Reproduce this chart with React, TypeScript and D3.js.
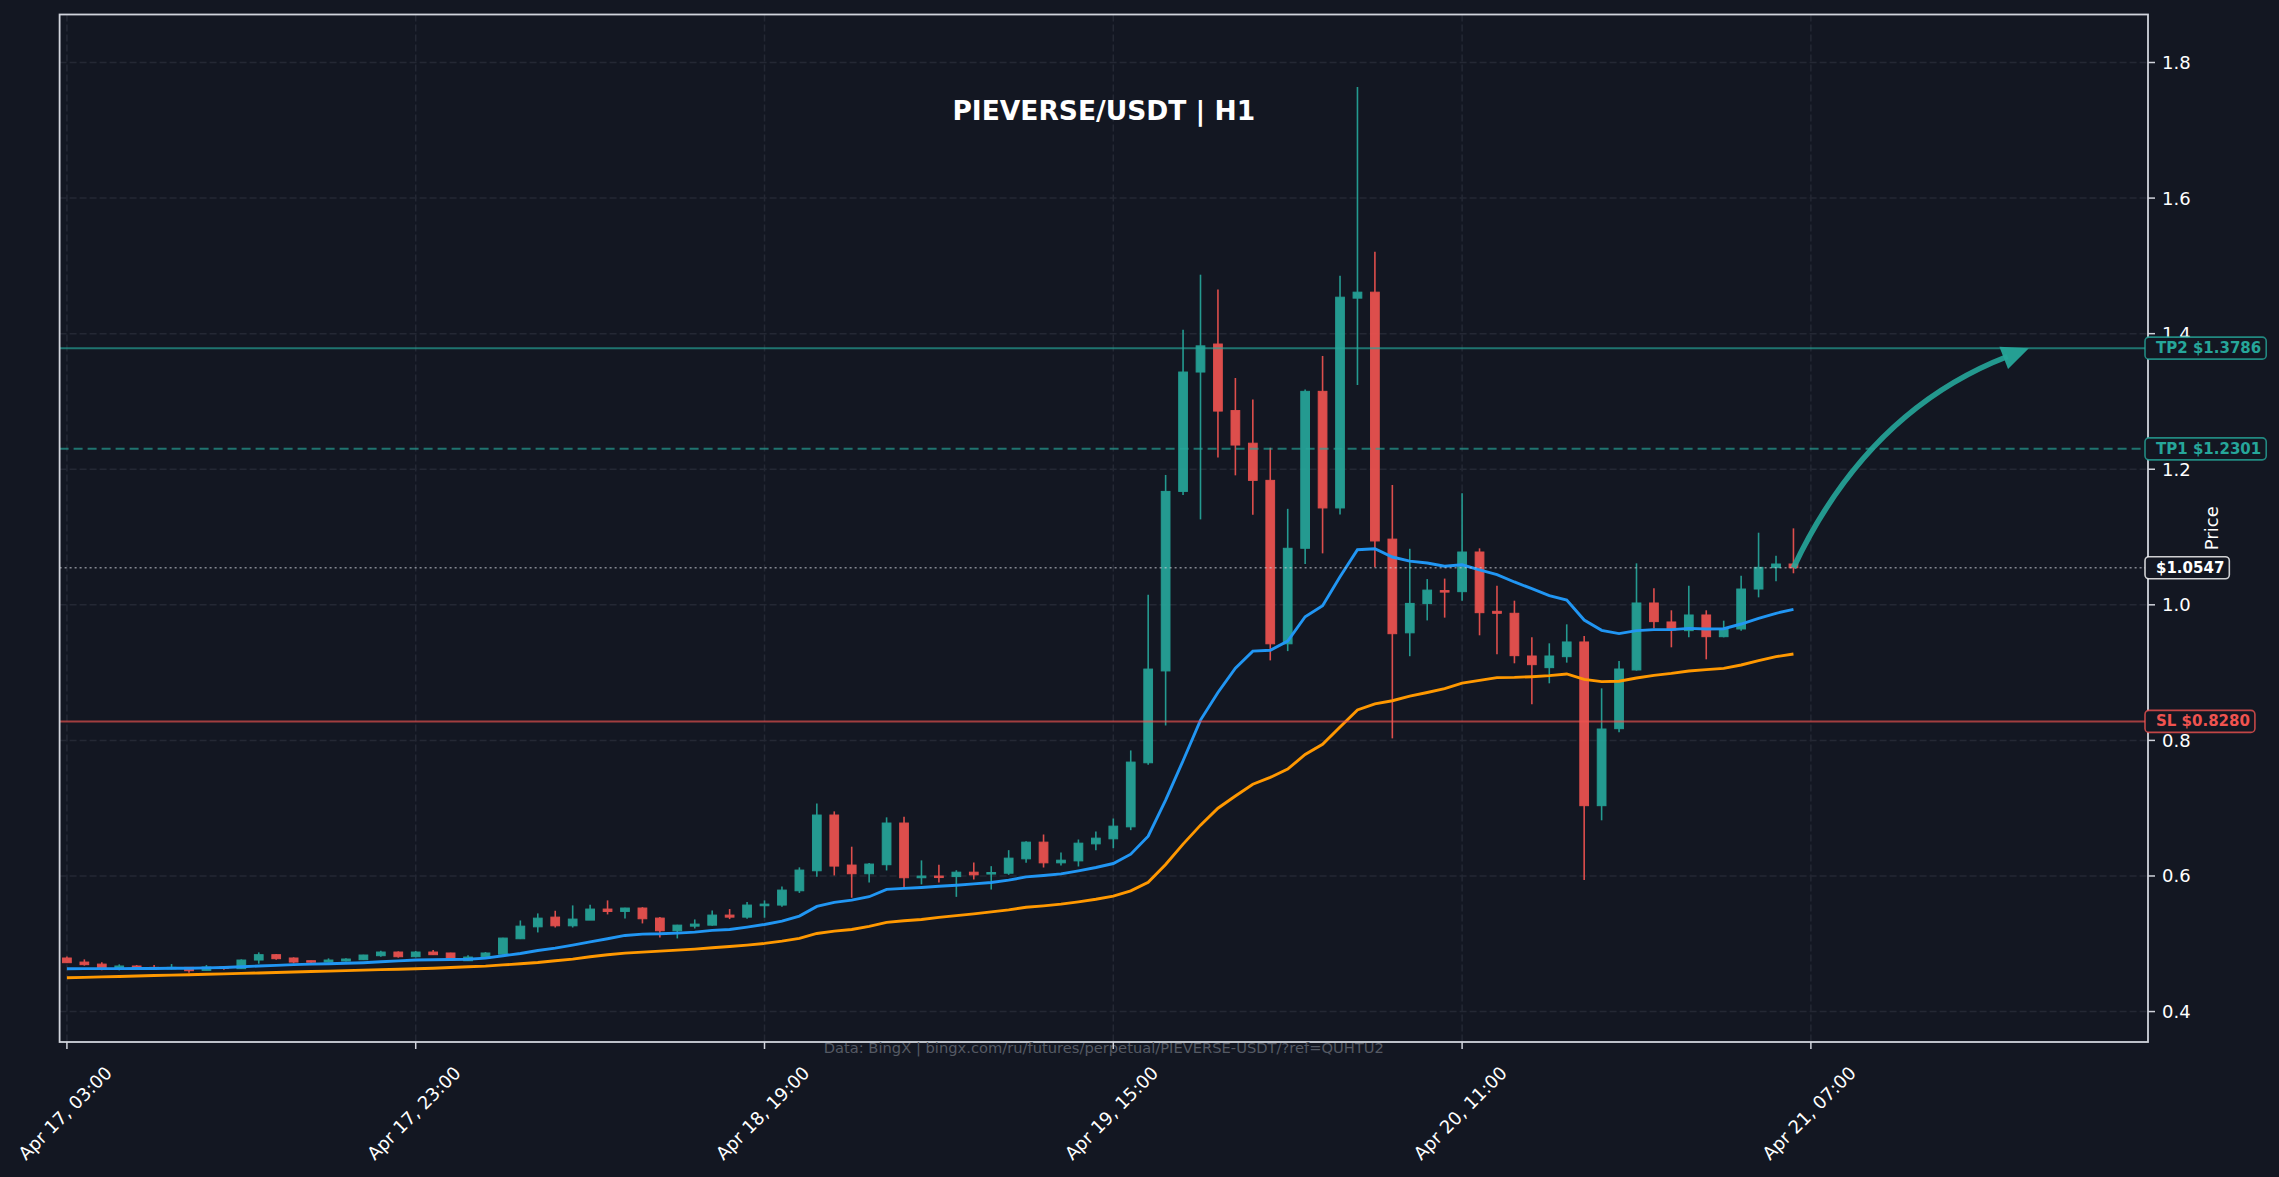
import { useEffect, useRef } from "react";
import * as d3 from "d3";

const WIDTH = 2279;
const HEIGHT = 1177;

// hourly candles, Apr 17 03:00 -> Apr 21 06:00
const opens = [
  0.479, 0.473, 0.47, 0.4622, 0.4672, 0.4652, 0.4647, 0.4652, 0.4608, 0.4657,
  0.4633, 0.476, 0.4839, 0.479, 0.475, 0.4731, 0.4746, 0.4765, 0.4824, 0.4878,
  0.4809, 0.4878, 0.4864, 0.475, 0.4785, 0.4847, 0.5074, 0.525, 0.5393, 0.5265,
  0.5349, 0.5512, 0.5477, 0.5527, 0.5379, 0.5192, 0.526, 0.5275, 0.5423, 0.5393,
  0.5561, 0.5571, 0.5782, 0.6077, 0.6899, 0.6161, 0.6033, 0.6166, 0.6781, 0.5974,
  0.5999, 0.5991, 0.6056, 0.603, 0.6041, 0.6253, 0.6499, 0.6194, 0.6223, 0.6474,
  0.6548, 0.6725, 0.767, 0.9025, 1.1673, 1.3434, 1.3847, 1.2865, 1.2384, 1.1836,
  0.9425, 1.0834, 1.3149, 1.1429, 1.4524, 1.4612, 1.0969, 0.9587, 1.0018, 1.021,
  1.0194, 1.0779, 0.9904, 0.9875, 0.9245, 0.9073, 0.9235, 0.9452, 0.7037, 0.8173,
  0.9039, 1.0027, 0.9747, 0.9619, 0.985, 0.953, 0.9644, 1.0233, 1.0548, 1.0602,
];
const highs = [
  0.4814, 0.477, 0.4726, 0.4696, 0.4686, 0.4686, 0.4701, 0.4657, 0.4686, 0.4662,
  0.477, 0.4873, 0.4849, 0.48, 0.4755, 0.4785, 0.4785, 0.4838, 0.4898, 0.4888,
  0.4893, 0.4908, 0.4868, 0.4829, 0.4878, 0.509, 0.5344, 0.5448, 0.5487, 0.5566,
  0.5576, 0.564, 0.553, 0.554, 0.5394, 0.528, 0.5359, 0.5492, 0.5512, 0.5615,
  0.564, 0.5846, 0.6127, 0.7071, 0.6953, 0.6432, 0.6191, 0.6865, 0.6874, 0.623,
  0.6166, 0.6085, 0.6199, 0.6145, 0.6381, 0.6514, 0.6612, 0.6346, 0.6538, 0.6656,
  0.6848, 0.7852, 1.015, 1.1916, 1.4057, 1.487, 1.4653, 1.3346, 1.3028, 1.2317,
  1.1416, 1.3176, 1.3671, 1.4856, 1.7639, 1.5208, 1.1768, 1.0827, 1.038, 1.0387,
  1.1645, 1.0833, 1.0283, 1.0061, 0.9521, 0.9432, 0.9712, 0.954, 0.8768, 0.9171,
  1.0612, 1.0243, 0.9919, 1.0283, 0.9919, 0.9766, 1.043, 1.1064, 1.0725, 1.1128,
];
const lows = [
  0.4716, 0.4677, 0.4608, 0.4608, 0.4622, 0.4622, 0.4622, 0.4574, 0.4608, 0.4618,
  0.4628, 0.4706, 0.4765, 0.4711, 0.4706, 0.4726, 0.474, 0.476, 0.4809, 0.4795,
  0.48, 0.4834, 0.476, 0.4745, 0.478, 0.484, 0.5069, 0.5167, 0.524, 0.524,
  0.5349, 0.5433, 0.5374, 0.53, 0.5093, 0.5079, 0.5226, 0.5265, 0.5364, 0.537,
  0.5384, 0.5546, 0.575, 0.5989, 0.6008, 0.5679, 0.5905, 0.6081, 0.5831, 0.5876,
  0.5905, 0.5692, 0.5948, 0.58, 0.6017, 0.6194, 0.6125, 0.6155, 0.614, 0.6381,
  0.641, 0.6676, 0.764, 0.822, 1.162, 1.126, 1.2174, 1.191, 1.1328, 0.918,
  0.9317, 1.0603, 1.0759, 1.1334, 1.3244, 1.0556, 0.803, 0.9242, 0.977, 0.9811,
  1.0061, 0.955, 0.927, 0.9137, 0.8532, 0.8842, 0.9147, 0.5941, 0.6821, 0.8119,
  0.9029, 0.9653, 0.9373, 0.952, 0.9196, 0.952, 0.9619, 1.011, 1.0347, 1.0465,
];
const closes = [
  0.4721, 0.4692, 0.4622, 0.4672, 0.4652, 0.4647, 0.4652, 0.4603, 0.4657, 0.4643,
  0.476, 0.4839, 0.478, 0.473, 0.4731, 0.476, 0.4775, 0.4834, 0.4878, 0.4809,
  0.4878, 0.4839, 0.476, 0.4804, 0.4864, 0.5084, 0.526, 0.5378, 0.5265, 0.5364,
  0.5512, 0.5477, 0.5527, 0.5369, 0.5192, 0.5275, 0.529, 0.5423, 0.5393, 0.5571,
  0.5585, 0.5792, 0.6087, 0.6899, 0.6146, 0.6033, 0.6176, 0.6781, 0.5974, 0.5999,
  0.5979, 0.6056, 0.6017, 0.6051, 0.6263, 0.6499, 0.6194, 0.6233, 0.6484, 0.6558,
  0.6735, 0.768, 0.9052, 1.1673, 1.3434, 1.382, 1.2858, 1.2357, 1.1836, 0.9425,
  1.0834, 1.3149, 1.1429, 1.4538, 1.4612, 1.0942, 0.9574, 1.0021, 1.0217, 1.019,
  1.0779, 0.9884, 0.9875, 0.925, 0.9117, 0.9245, 0.9452, 0.7037, 0.8168, 0.9053,
  1.0027, 0.9752, 0.9629, 0.985, 0.953, 0.9644, 1.0233, 1.0553, 1.0602, 1.0547,
];

// moving averages
const emaFast = [
  0.4632, 0.4633, 0.4633, 0.4634, 0.4635, 0.4636, 0.4638, 0.464, 0.4645, 0.465,
  0.466, 0.4672, 0.4682, 0.4692, 0.47, 0.4706, 0.4712, 0.4721, 0.4735, 0.4748,
  0.476, 0.4764, 0.4767, 0.4772, 0.4788, 0.4823, 0.4857, 0.4901, 0.4936, 0.498,
  0.5029, 0.5074, 0.5123, 0.5143, 0.5147, 0.5157, 0.5172, 0.5197, 0.5211, 0.5246,
  0.5285, 0.5334, 0.5408, 0.5551, 0.561, 0.5644, 0.5694, 0.5802, 0.5817, 0.5831,
  0.5849, 0.5864, 0.5884, 0.5903, 0.5938, 0.5987, 0.6007, 0.6031, 0.6076, 0.6125,
  0.6184, 0.6322, 0.6587, 0.712, 0.77, 0.83, 0.8707, 0.9066, 0.9317, 0.933,
  0.9466, 0.9824, 0.9987, 1.0414, 1.0813, 1.0827, 1.0705, 1.0644, 1.0617, 1.057,
  1.059, 1.0514, 1.0445, 1.0337, 1.0238, 1.0135, 1.0071, 0.9776, 0.9624, 0.9575,
  0.9619, 0.9634, 0.9634, 0.9653, 0.9643, 0.9648, 0.9717, 0.9801, 0.9875, 0.9934,
];
const emaSlow = [
  0.4499, 0.4505, 0.4511, 0.4518, 0.4524, 0.4531, 0.4537, 0.4544, 0.455, 0.4556,
  0.4563, 0.4569, 0.4576, 0.4583, 0.459, 0.4597, 0.4604, 0.4611, 0.4618, 0.4625,
  0.4632, 0.464, 0.465, 0.466, 0.467, 0.4688, 0.4705, 0.4724, 0.4749, 0.4774,
  0.4808, 0.4838, 0.4862, 0.4877, 0.4892, 0.4906, 0.4921, 0.4941, 0.496, 0.498,
  0.5005, 0.5039, 0.5079, 0.5152, 0.5187, 0.5211, 0.5256, 0.5315, 0.5339, 0.5359,
  0.539, 0.5416, 0.5441, 0.547, 0.55, 0.5539, 0.5559, 0.5584, 0.5618, 0.5657,
  0.5702, 0.578, 0.5908, 0.617, 0.647, 0.675, 0.7, 0.718, 0.7353, 0.7454,
  0.7576, 0.7793, 0.7942, 0.8199, 0.845, 0.8538, 0.8585, 0.8653, 0.8707, 0.8765,
  0.8845, 0.8886, 0.8926, 0.893, 0.894, 0.8955, 0.898, 0.8901, 0.8867, 0.8872,
  0.8921, 0.896, 0.8989, 0.9024, 0.9044, 0.9063, 0.9112, 0.9176, 0.9235, 0.9275,
];

const xTickIndex = [0, 20, 40, 60, 80, 100];
const xTickLabels = [
  "Apr 17, 03:00",
  "Apr 17, 23:00",
  "Apr 18, 19:00",
  "Apr 19, 15:00",
  "Apr 20, 11:00",
  "Apr 21, 07:00",
];
const yTicks = [0.4, 0.6, 0.8, 1.0, 1.2, 1.4, 1.6, 1.8];

const levelPrices = [1.3786, 1.2301, 1.0547, 0.828];
const levelNames = ["TP2", "TP1", "", "SL"];
const targetIndex = 112.5;

const title = "PIEVERSE/USDT | H1";
const sourceNote =
  "Data: BingX | bingx.com/ru/futures/perpetual/PIEVERSE-USDT/?ref=QUHTU2";

export default function App() {
  const svgRef = useRef<SVGSVGElement>(null);

  useEffect(() => {
    if (!svgRef.current) return;
    document.body.style.margin = "0";

    const bg = "#131722";
    const up = "#26a69a";
    const down = "#ef5350";
    const fg = "#d1d4dc";
    const font = "DejaVu Sans, Liberation Sans, sans-serif";

    const plot = { left: 59.6, right: 2148, top: 14.5, bottom: 1042 };

    const svg = d3.select(svgRef.current);
    svg.selectAll("*").remove();

    svg
      .append("rect")
      .attr("width", WIDTH)
      .attr("height", HEIGHT)
      .attr("fill", bg);

    const x = d3
      .scaleLinear()
      .domain([-0.42, 119.33])
      .range([plot.left, plot.right]);
    const y = d3
      .scaleLinear()
      .domain([0.3551, 1.8708])
      .range([plot.bottom, plot.top]);

    // Grid
    const grid = svg.append("g");
    grid
      .selectAll("line.h")
      .data(yTicks)
      .join("line")
      .attr("x1", plot.left)
      .attr("x2", plot.right)
      .attr("y1", (d) => y(d))
      .attr("y2", (d) => y(d))
      .attr("stroke", "#242834")
      .attr("stroke-width", 1.5)
      .attr("stroke-dasharray", "7,3");
    grid
      .selectAll("line.v")
      .data(xTickIndex)
      .join("line")
      .attr("x1", (d) => x(d))
      .attr("x2", (d) => x(d))
      .attr("y1", plot.top)
      .attr("y2", plot.bottom)
      .attr("stroke", "#242834")
      .attr("stroke-width", 1.5)
      .attr("stroke-dasharray", "7,3");

    // Candles
    const idx = d3.range(closes.length);
    const bodyW = x(0.5) - x(0);
    const color = (i: number) => (closes[i] >= opens[i] ? up : down);
    const candles = svg.append("g").attr("opacity", 0.92);
    candles
      .selectAll("line")
      .data(idx)
      .join("line")
      .attr("x1", (i) => x(i))
      .attr("x2", (i) => x(i))
      .attr("y1", (i) => y(highs[i]))
      .attr("y2", (i) => y(lows[i]))
      .attr("stroke", color)
      .attr("stroke-width", 1.6);
    candles
      .selectAll("rect")
      .data(idx)
      .join("rect")
      .attr("x", (i) => x(i) - bodyW / 2)
      .attr("y", (i) => y(Math.max(opens[i], closes[i])))
      .attr("width", bodyW)
      .attr("height", (i) =>
        Math.max(Math.abs(y(opens[i]) - y(closes[i])), 1.5)
      )
      .attr("fill", color)
      .attr("stroke", color)
      .attr("stroke-width", 1);

    // Moving averages
    const line = d3
      .line<number>()
      .x((_, i) => x(i))
      .y((d) => y(d));
    svg
      .append("path")
      .attr("d", line(emaSlow))
      .attr("fill", "none")
      .attr("stroke", "#ff9800")
      .attr("stroke-width", 2.9);
    svg
      .append("path")
      .attr("d", line(emaFast))
      .attr("fill", "none")
      .attr("stroke", "#2196f3")
      .attr("stroke-width", 2.9);

    // Level lines
    const levelColor = [up, up, fg, down];
    const levelDash = ["", "9,5", "2,3", ""];
    levelPrices.forEach((p, k) => {
      svg
        .append("line")
        .attr("x1", plot.left)
        .attr("x2", plot.right)
        .attr("y1", y(p))
        .attr("y2", y(p))
        .attr("stroke", levelColor[k])
        .attr("stroke-opacity", k === 2 ? 0.6 : 0.65)
        .attr("stroke-width", k === 2 ? 1.6 : 2)
        .attr("stroke-dasharray", levelDash[k] || null);
    });

    // Arrow from the last close to TP2
    const last = closes.length - 1;
    const sx = x(last);
    const sy = y(closes[last]);
    const ex = x(targetIndex);
    const ey = y(levelPrices[0]);
    const rad = 0.2;
    const cx = (sx + ex) / 2 + rad * (ey - sy);
    const cy = (sy + ey) / 2 - rad * (ex - sx);
    const hx = ex - cx;
    const hy = ey - cy;
    const hl = Math.hypot(hx, hy);
    const ux = hx / hl;
    const uy = hy / hl;
    const headLen = 27;
    const headHalf = 12;
    const bx = ex - ux * headLen;
    const by = ey - uy * headLen;
    svg
      .append("path")
      .attr("d", `M${sx},${sy} Q${cx},${cy} ${bx + ux * 4},${by + uy * 4}`)
      .attr("fill", "none")
      .attr("stroke", up)
      .attr("stroke-width", 5.5)
      .attr("stroke-opacity", 0.9);
    svg
      .append("path")
      .attr(
        "d",
        `M${ex},${ey} L${bx - uy * headHalf},${by + ux * headHalf} L${
          bx + uy * headHalf
        },${by - ux * headHalf} Z`
      )
      .attr("fill", up)
      .attr("fill-opacity", 0.95);

    // Spines
    svg
      .append("rect")
      .attr("x", plot.left)
      .attr("y", plot.top)
      .attr("width", plot.right - plot.left)
      .attr("height", plot.bottom - plot.top)
      .attr("fill", "none")
      .attr("stroke", fg)
      .attr("stroke-width", 1.8);

    // Source note (sits on the bottom spine, as in the original)
    svg
      .append("text")
      .attr("x", (plot.left + plot.right) / 2)
      .attr("y", 1047)
      .attr("text-anchor", "middle")
      .attr("dominant-baseline", "central")
      .attr("font-family", font)
      .attr("font-size", 14.7)
      .attr("fill", "#555a64")
      .text(sourceNote);

    // Title
    svg
      .append("text")
      .attr("x", (plot.left + plot.right) / 2)
      .attr("y", 120)
      .attr("text-anchor", "middle")
      .attr("font-family", font)
      .attr("font-size", 26.5)
      .attr("font-weight", "bold")
      .attr("fill", "#ffffff")
      .text(title);

    // Right y axis
    const yAxis = svg.append("g");
    yAxis
      .selectAll("line")
      .data(yTicks)
      .join("line")
      .attr("x1", plot.right)
      .attr("x2", plot.right + 7)
      .attr("y1", (d) => y(d))
      .attr("y2", (d) => y(d))
      .attr("stroke", fg)
      .attr("stroke-width", 1.5);
    yAxis
      .selectAll("text")
      .data(yTicks)
      .join("text")
      .attr("x", plot.right + 14)
      .attr("y", (d) => y(d))
      .attr("dominant-baseline", "central")
      .attr("font-family", font)
      .attr("font-size", 18)
      .attr("fill", "#ffffff")
      .text((d) => d.toFixed(1));
    svg
      .append("text")
      .attr(
        "transform",
        `translate(2211,${(plot.top + plot.bottom) / 2}) rotate(-90)`
      )
      .attr("text-anchor", "middle")
      .attr("dominant-baseline", "central")
      .attr("font-family", font)
      .attr("font-size", 18)
      .attr("fill", "#ffffff")
      .text("Price");

    // Bottom x axis
    const xAxis = svg.append("g");
    xAxis
      .selectAll("line")
      .data(xTickIndex)
      .join("line")
      .attr("x1", (d) => x(d))
      .attr("x2", (d) => x(d))
      .attr("y1", plot.bottom)
      .attr("y2", plot.bottom + 7)
      .attr("stroke", fg)
      .attr("stroke-width", 1.5);
    xAxis
      .selectAll("text")
      .data(xTickIndex)
      .join("text")
      .attr("transform", (d) => `translate(${x(d) - 2},1113) rotate(-45)`)
      .attr("text-anchor", "middle")
      .attr("dominant-baseline", "central")
      .attr("font-family", font)
      .attr("font-size", 18)
      .attr("fill", "#ffffff")
      .text((_, k) => xTickLabels[k]);

    // Level tags on the right edge
    levelPrices.forEach((p, k) => {
      const label = levelNames[k]
        ? `${levelNames[k]} $${p.toFixed(4)}`
        : `$${p.toFixed(4)}`;
      const g = svg.append("g");
      const t = g
        .append("text")
        .attr("x", plot.right + 8)
        .attr("y", y(p))
        .attr("dominant-baseline", "central")
        .attr("font-family", font)
        .attr("font-size", 15)
        .attr("font-weight", "bold")
        .attr("fill", k === 2 ? "#ffffff" : levelColor[k])
        .text(label);
      const w = (t.node() as SVGTextElement).getComputedTextLength();
      g.insert("rect", "text")
        .attr("x", plot.right - 3)
        .attr("y", y(p) - 11)
        .attr("width", w + 16)
        .attr("height", 22)
        .attr("rx", 4)
        .attr("fill", bg)
        .attr("stroke", k === 2 ? "#ffffff" : levelColor[k])
        .attr("stroke-opacity", 0.8)
        .attr("stroke-width", 1.6);
    });
  }, []);

  return (
    <svg
      ref={svgRef}
      width={WIDTH}
      height={HEIGHT}
      style={{ display: "block", position: "absolute", left: 0, top: 0 }}
    />
  );
}
